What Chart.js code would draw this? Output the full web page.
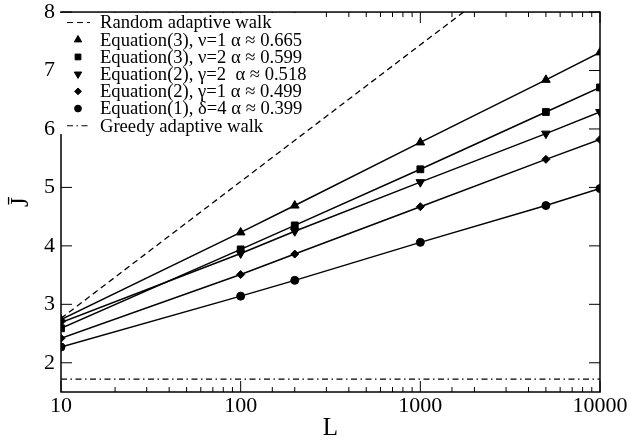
<!DOCTYPE html>
<html>
<head>
<meta charset="UTF-8">
<title>J vs L</title>
<script src="https://cdn.jsdelivr.net/npm/chart.js@4.4.1/dist/chart.umd.min.js"></script>
<style>
  html, body { margin: 0; padding: 0; background: #fff; }
  #wrap { width: 631px; height: 445px; }
</style>
</head>
<body>
<div id="wrap"><canvas id="myChart"></canvas></div>

<script>
  // values
  let sizes = [10, 100, 200, 1000, 5000, 10000];
  let eq3nu1 = [2.74, 4.23, 4.69, 5.77, 6.84, 7.31];
  let eq3nu2 = [2.59, 3.94, 4.35, 5.31, 6.29, 6.71];
  let eq2g2  = [2.69, 3.87, 4.25, 5.09, 5.92, 6.29];
  let eq2g1  = [2.42, 3.51, 3.86, 4.67, 5.48, 5.82];
  let eq1d4  = [2.27, 3.14, 3.41, 4.06, 4.69, 4.98];

  let randomL = [10, 100, 1000, 2000];
  let randomJ = [2.76, 5.10, 7.44, 8.14];
  let greedyL = [10, 10000];
  let greedyJ = [1.72, 1.72];

  let labels = [
    "Random adaptive walk",
    "Equation(3), \u03bd=1 \u03b1 \u2248 0.665",
    "Equation(3), \u03bd=2 \u03b1 \u2248 0.599",
    "Equation(2), \u03b3=2  \u03b1 \u2248 0.518",
    "Equation(2), \u03b3=1 \u03b1 \u2248 0.499",
    "Equation(1), \u03b4=4 \u03b1 \u2248 0.399",
    "Greedy adaptive walk"
  ];

  let serif = "'Liberation Serif', 'DejaVu Serif', serif";

  function pts(xs, ys) {
    return xs.map(function(x, i){ return {x: x, y: ys[i]}; });
  }

  function markerSet(label, ys, style, r, rot) {
    return {
      label: label,
      data: pts(sizes, ys),
      borderColor: "#000",
      backgroundColor: "#000",
      borderWidth: 1.5,
      pointStyle: style,
      pointRotation: rot || 0,
      pointRadius: r,
      pointBorderWidth: 1,
      pointBackgroundColor: "#000",
      pointBorderColor: "#000",
      tension: 0
    };
  }

  let datasets = [
    {
      label: labels[0],
      data: pts(randomL, randomJ),
      borderColor: "#000",
      borderWidth: 1.3,
      borderDash: [6, 4],
      pointRadius: 0,
      tension: 0
    },
    markerSet(labels[1], eq3nu1, "triangle", 5),
    markerSet(labels[2], eq3nu2, "rect", 4.8),
    markerSet(labels[3], eq2g2, "triangle", 5, 180),
    markerSet(labels[4], eq2g1, "rectRot", 4),
    markerSet(labels[5], eq1d4, "circle", 4),
    {
      label: labels[6],
      data: pts(greedyL, greedyJ),
      borderColor: "#000",
      borderWidth: 1.2,
      borderDash: [6, 3.5, 1.5, 3.5],
      pointRadius: 0,
      tension: 0
    }
  ];

  function isPow10(v) {
    let l = Math.log10(v);
    return Math.abs(l - Math.round(l)) < 1e-9;
  }

  // box frame with inward ticks, like the original plot
  let frameTicks = {
    id: "frameTicks",
    beforeDatasetsDraw: function(chart) {
      let ctx = chart.ctx, a = chart.chartArea;
      let xs = chart.scales.x, ys = chart.scales.y;
      ctx.save();
      ctx.strokeStyle = "#000";
      ctx.lineWidth = 1.5;
      ctx.strokeRect(a.left, a.top, a.right - a.left, a.bottom - a.top);
      ctx.lineWidth = 1;
      ctx.beginPath();
      xs.ticks.forEach(function(t) {
        let px = xs.getPixelForValue(t.value);
        if (px < a.left - 0.5 || px > a.right + 0.5) return;
        let len = isPow10(t.value) ? 11 : 5;
        ctx.moveTo(px, a.bottom); ctx.lineTo(px, a.bottom - len);
        ctx.moveTo(px, a.top); ctx.lineTo(px, a.top + len);
      });
      ys.ticks.forEach(function(t) {
        if (!Number.isInteger(t.value)) return;
        let py = ys.getPixelForValue(t.value);
        ctx.moveTo(a.left, py); ctx.lineTo(a.left + 11, py);
        ctx.moveTo(a.right, py); ctx.lineTo(a.right - 11, py);
      });
      ctx.stroke();
      ctx.restore();
    }
  };

  // legend box drawn inside the plot, top left
  let boxLegend = {
    id: "boxLegend",
    beforeDatasetsDraw: function(chart) {
      let ctx = chart.ctx, a = chart.chartArea;
      let x0 = a.left + 1, y0 = a.top + 1;
      ctx.save();
      ctx.fillStyle = "#fff";
      ctx.fillRect(a.left - 1, y0, 245, 121);
      ctx.font = "18.6px " + serif;
      ctx.textBaseline = "middle";
      ctx.fillStyle = "#000";
      chart.data.datasets.forEach(function(ds, i) {
        let cy = y0 + 9.5 + i * 17.2;
        let cx = x0 + 16;
        if (ds.pointRadius > 0) {
          ctx.fillStyle = "#000";
          ctx.strokeStyle = "#000";
          ctx.lineWidth = 1;
          Chart.helpers.drawPoint(ctx, {
            pointStyle: ds.pointStyle,
            rotation: ds.pointRotation,
            radius: ds.pointRadius * 0.85,
            borderWidth: 1
          }, cx, cy);
        } else {
          ctx.strokeStyle = "#000";
          ctx.lineWidth = 1;
          ctx.setLineDash(ds.borderDash);
          ctx.beginPath();
          ctx.moveTo(x0 + 5, cy);
          ctx.lineTo(x0 + 28, cy);
          ctx.stroke();
          ctx.setLineDash([]);
        }
        ctx.fillStyle = "#000";
        ctx.fillText(ds.label, x0 + 38, cy + 1);
      });
      ctx.restore();
    }
  };

  new Chart("myChart", {
    type: "line",
    data: { datasets: datasets },
    plugins: [frameTicks, boxLegend],
    options: {
      responsive: true,
      maintainAspectRatio: false,
      animation: false,
      layout: { padding: { left: 6, right: 2, top: 0, bottom: 2 } },
      plugins: {
        legend: { display: false },
        tooltip: { enabled: false }
      },
      scales: {
        x: {
          type: "logarithmic",
          min: 10,
          max: 10000,
          grid: { display: false, drawTicks: false },
          border: { display: false },
          ticks: {
            autoSkip: false,
            maxRotation: 0,
            padding: 3.5,
            color: "#000",
            font: { family: serif, size: 22, lineHeight: 1 },
            callback: function(v) { return isPow10(v) ? String(v) : ""; }
          },
          title: {
            display: true,
            text: "L",
            color: "#000",
            font: { family: serif, size: 25 },
            padding: { top: -8, bottom: 0 }
          }
        },
        y: {
          min: 1.5,
          max: 8,
          grid: { display: false, drawTicks: false },
          border: { display: false },
          ticks: {
            stepSize: 1,
            padding: 6,
            color: "#000",
            font: { family: serif, size: 22, lineHeight: 0.55 },
            callback: function(v) { return Number.isInteger(v) ? String(v) : ""; }
          },
          title: {
            display: true,
            text: "J\u0304",
            color: "#000",
            font: { family: serif, size: 25 },
            padding: { top: 0, bottom: 2 }
          }
        }
      }
    }
  });
</script>
</body>
</html>
